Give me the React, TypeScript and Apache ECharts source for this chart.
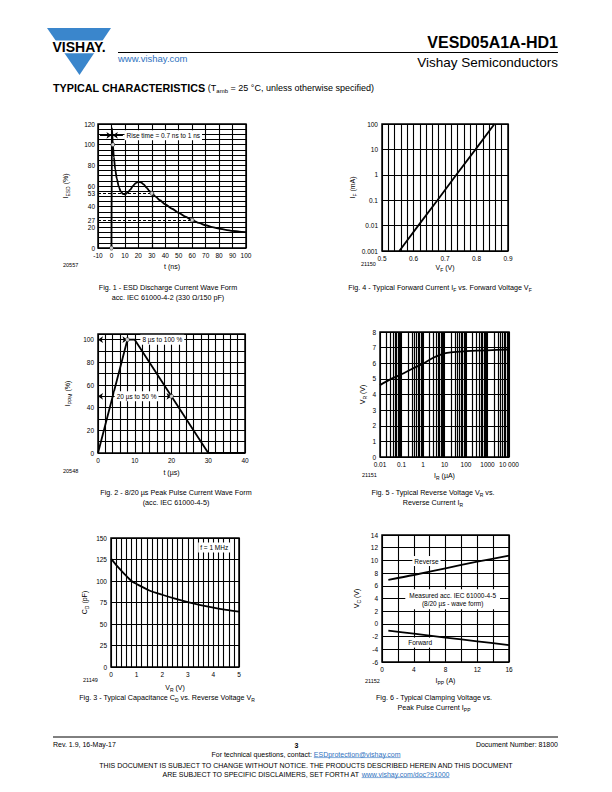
import React, { useEffect, useRef } from 'react';
import * as echarts from 'echarts';

const FONT = '"Liberation Sans", Arial, Helvetica, sans-serif';
const BLACK = '#000';
const BLUE = '#3a86cc';
const LINK = '#2f72c0';

// ---- Fig. 1 : ESD discharge current wave form
const fig1Time = [0, 0.4, 1, 1.8, 2.8, 4, 5.5, 7, 8.5, 10, 12, 14, 16, 18, 20, 22, 24, 26, 28, 30, 33, 36, 40, 45, 50, 55, 60, 65, 70, 75, 80, 85, 90, 95, 100];
const fig1Iesd = [0, 116, 100, 88, 76, 67, 59, 54.5, 52.3, 52, 53.5, 56.5, 60, 62.8, 64, 63.5, 61.5, 58.5, 55.5, 53, 49.5, 46.2, 42.3, 38, 34, 30.3, 27, 24.3, 22, 20.2, 18.8, 17.6, 16.6, 15.8, 15.3];
const fig1MarkTime = [0, 1, 30, 60];
const fig1MarkIesd = [0, 100, 53, 27];
const fig1YLabels = [0, 20, 27, 40, 53, 60, 80, 100, 120];

// ---- Fig. 2 : 8/20 us peak pulse current wave form
const fig2Time = [0, 8, 10, 30, 40];
const fig2Ippm = [0, 100, 100, 0, 0];
const fig2MarkTime = [8, 20];
const fig2MarkIppm = [100, 50];

// ---- Fig. 3 : capacitance vs reverse voltage
const fig3Vr = [0, 0.25, 0.5, 0.8, 1, 1.5, 2, 2.5, 3, 3.5, 4, 4.5, 5];
const fig3Cd = [126, 117, 109, 100, 96.5, 89, 84, 79.5, 75.5, 72, 69, 66.5, 64.5];

// ---- Fig. 4 : forward current vs forward voltage
const fig4Vf = [0.555, 0.615, 0.676, 0.736, 0.797, 0.857];
const fig4If = [0.001, 0.01, 0.1, 1, 10, 100];

// ---- Fig. 5 : reverse voltage vs reverse current
const fig5Ir = [0.01, 0.03, 0.1, 0.3, 1, 3, 10, 20, 50, 100, 1000, 10000];
const fig5Vr = [4.6, 4.97, 5.3, 5.63, 5.97, 6.35, 6.63, 6.7, 6.74, 6.77, 6.83, 6.88];
const fig5Decades = [0.01, 0.1, 1, 10, 100, 1000];
const fig5Steps = [2, 3, 4, 5, 6, 7, 8, 9];

// ---- Fig. 6 : clamping voltage vs peak pulse current
const fig6Ipp = [0.8, 4, 8, 12, 16];
const fig6Reverse = [6.95, 7.7, 8.75, 9.8, 10.75];
const fig6Forward = [-1.05, -1.53, -2.16, -2.74, -3.35];

const zip = (a: number[], b: number[]) => a.map((v, i) => [v, b[i]]);

const nameRich = {
  n: { fontSize: 7, fontFamily: FONT, color: BLACK, lineHeight: 10 },
  s: { fontSize: 5, fontFamily: FONT, color: BLACK, lineHeight: 5, verticalAlign: 'bottom' },
};

function axis(gridIndex: number, o: any) {
  const { label, ...rest } = o;
  return {
    gridIndex,
    axisLine: { show: false },
    axisTick: { show: false },
    splitLine: { show: true, lineStyle: { color: BLACK, width: 1.1 } },
    nameLocation: 'middle',
    nameTextStyle: { color: BLACK, fontFamily: FONT, fontSize: 7, lineHeight: 10, rich: nameRich },
    axisLabel: { color: BLACK, fontSize: 6.5, fontFamily: FONT, margin: 4, ...(label || {}) },
    ...rest,
  };
}

const gridBox = (left: number, top: number, width: number, height: number) => ({
  left, top, width, height, show: true, borderColor: BLACK, borderWidth: 1.5, backgroundColor: 'transparent',
});

const isMult = (v: number, m: number) => Math.abs(v / m - Math.round(v / m)) < 1e-6;
const logFmt = (v: number) => {
  const r = Number(Number(v).toPrecision(6));
  return r === 10000 ? '10 000' : String(r);
};

const curve = (xi: number, data: number[][], extra: any = {}) => ({
  type: 'line', xAxisIndex: xi, yAxisIndex: xi, data, symbol: 'none', silent: true,
  lineStyle: { color: BLACK, width: 1.8 }, ...extra,
});

const markers = (xi: number, data: number[][], extra: any = {}) => ({
  type: 'scatter', xAxisIndex: xi, yAxisIndex: xi, data, symbol: 'circle', symbolSize: 4, silent: true, z: 5,
  itemStyle: { color: '#fff', borderColor: BLACK, borderWidth: 0.8 }, ...extra,
});

const noteLabel = { show: true, color: BLACK, fontSize: 6.5, fontFamily: FONT, backgroundColor: '#fff', padding: [1, 2], position: 'inside', formatter: '{b}', lineHeight: 8 };
const notes = (items: any[]) => ({
  silent: true, symbol: 'rect', symbolSize: 1, itemStyle: { color: 'rgba(0,0,0,0)' },
  label: noteLabel, data: items,
});
const arrows = (items: any[]) => ({
  silent: true, symbolSize: 5, label: { show: false }, lineStyle: { color: BLACK, width: 1, type: 'solid' }, data: items,
});

function buildOption() {
  const minorLines: any[] = [];
  fig5Decades.forEach((d) => fig5Steps.forEach((s) => minorLines.push({ xAxis: d * s })));

  const mw = (t: string, f: string) => {
    const c = document.createElement('canvas').getContext('2d') as CanvasRenderingContext2D;
    c.font = f;
    return c.measureText(t).width;
  };
  const footFont = `7px ${FONT}`;
  const f1a = 'For technical questions, contact: ';
  const f1b = 'ESDprotection@vishay.com';
  const w1a = mw(f1a, footFont), w1b = mw(f1b, footFont);
  const x1 = 306 - (w1a + w1b) / 2;
  const f3a = 'ARE SUBJECT TO SPECIFIC DISCLAIMERS, SET FORTH AT ';
  const f3b = 'www.vishay.com/doc?91000';
  const w3a = mw(f3a, footFont), w3b = mw(f3b, footFont);
  const x3 = 306 - (w3a + w3b) / 2;

  const capRich = {
    s: { fontSize: 5, fontFamily: FONT, fill: BLACK, lineHeight: 5, verticalAlign: 'bottom' },
  };
  const txt = (text: string, x: number, y: number, o: any = {}) => ({
    type: 'text', x, y, silent: true,
    style: { text, fill: BLACK, fontSize: 7, fontFamily: FONT, align: 'left', verticalAlign: 'middle', lineHeight: 10, rich: capRich, ...o },
  });
  const cap = (text: string, x: number, y: number) => txt(text, x, y, { align: 'center', fontSize: 7.2 });

  const graphic: any[] = [
    // logo
    { type: 'polygon', silent: true, shape: { points: [[47, 28], [111, 28], [79.5, 75]] }, style: { fill: BLUE } },
    { type: 'rect', silent: true, shape: { x: 42, y: 40.5, width: 74, height: 12.8 }, style: { fill: '#fff' } },
    txt('VISHAY.', 52.5, 47.2, { fontSize: 14, fontWeight: 'bold' }),
    { type: 'line', silent: true, shape: { x1: 118, y1: 52.5, x2: 558, y2: 52.5 }, style: { stroke: BLACK, lineWidth: 1 } },
    txt('VESD05A1A-HD1', 558, 42, { align: 'right', fontSize: 16, fontWeight: 'bold' }),
    txt('www.vishay.com', 118, 58.5, { fontSize: 9.5, fill: LINK }),
    txt('Vishay Semiconductors', 558, 62, { align: 'right', fontSize: 13.5 }),
    txt('{b|TYPICAL CHARACTERISTICS} {n|(T}{t|amb}{n| = 25 °C, unless otherwise specified)}', 53, 88, {
      fontSize: 9,
      rich: {
        b: { fontSize: 10.8, fontWeight: 'bold', fontFamily: FONT, fill: BLACK, lineHeight: 12 },
        n: { fontSize: 9, fontFamily: FONT, fill: BLACK, lineHeight: 12 },
        t: { fontSize: 6, fontFamily: FONT, fill: BLACK, lineHeight: 6, verticalAlign: 'bottom' },
      },
    }),
    // figure ids
    txt('20557', 63, 265, { fontSize: 5.5 }),
    txt('21150', 361, 264, { fontSize: 5.5 }),
    txt('20548', 63, 471, { fontSize: 5.5 }),
    txt('21151', 362, 475, { fontSize: 5.5 }),
    txt('21149', 83, 680, { fontSize: 5.5 }),
    txt('21152', 365, 680.5, { fontSize: 5.5 }),
    // captions
    cap('Fig. 1 - ESD Discharge Current Wave Form', 168, 287),
    cap('acc. IEC 61000-4-2 (330 Ω/150 pF)', 168, 297),
    cap('Fig. 4 - Typical Forward Current I{s|F} vs. Forward Voltage V{s|F}', 440, 287),
    cap('Fig. 2 - 8/20 µs Peak Pulse Current Wave Form', 176, 492),
    cap('(acc. IEC 61000-4-5)', 176, 502),
    cap('Fig. 5 - Typical Reverse Voltage V{s|R} vs.', 433, 492),
    cap('Reverse Current I{s|R}', 433, 502),
    cap('Fig. 3 - Typical Capacitance C{s|D} vs. Reverse Voltage V{s|R}', 167, 697),
    cap('Fig. 6 - Typical Clamping Voltage vs.', 434, 697),
    cap('Peak Pulse Current I{s|PP}', 434, 707),
    // footer
    { type: 'line', silent: true, shape: { x1: 53, y1: 737, x2: 558, y2: 737 }, style: { stroke: BLACK, lineWidth: 1 } },
    txt('Rev. 1.9, 16-May-17', 53, 744.5),
    txt('3', 296.5, 745, { align: 'center', fontWeight: 'bold' }),
    txt('Document Number: 81800', 558, 744.5, { align: 'right' }),
    txt(f1a, x1, 754),
    txt(f1b, x1 + w1a, 754, { fill: LINK }),
    { type: 'line', silent: true, shape: { x1: x1 + w1a, y1: 757.6, x2: x1 + w1a + w1b, y2: 757.6 }, style: { stroke: LINK, lineWidth: 0.6 } },
    txt('THIS DOCUMENT IS SUBJECT TO CHANGE WITHOUT NOTICE. THE PRODUCTS DESCRIBED HEREIN AND THIS DOCUMENT', 306, 765, { align: 'center' }),
    txt(f3a, x3, 774),
    txt(f3b, x3 + w3a, 774, { fill: LINK }),
    { type: 'line', silent: true, shape: { x1: x3 + w3a, y1: 777.6, x2: x3 + w3a + w3b, y2: 777.6 }, style: { stroke: LINK, lineWidth: 0.6 } },
  ];

  return {
    animation: false,
    backgroundColor: '#fff',
    textStyle: { fontFamily: FONT },
    graphic,
    grid: [
      gridBox(98, 124, 148, 124), // 0 fig1
      gridBox(382, 124, 126, 127), // 1 fig4
      gridBox(98, 334, 147, 119), // 2 fig2
      gridBox(380, 332, 129, 125), // 3 fig5
      gridBox(111, 538, 128, 129), // 4 fig3
      gridBox(382, 535, 127, 127), // 5 fig6
    ],
    xAxis: [
      axis(0, { type: 'value', min: -10, max: 100, interval: 10, name: '{n|t (ns)}', nameGap: 13 }),
      axis(1, {
        type: 'value', min: 0.5, max: 0.9, interval: 0.02, name: '{n|V}{s|F}{n| (V)}', nameGap: 11,
        label: { formatter: (v: number) => (isMult(v, 0.1) ? v.toFixed(1) : '') },
      }),
      axis(2, {
        type: 'value', min: 0, max: 40, interval: 2, name: '{n|t (µs)}', nameGap: 14,
        label: { formatter: (v: number) => (isMult(v, 10) ? String(v) : '') },
      }),
      axis(3, {
        type: 'log', logBase: 10, min: 0.01, max: 10000, name: '{n|I}{s|R}{n| (µA)}', nameGap: 13,
        label: { formatter: logFmt },
      }),
      axis(4, {
        type: 'value', min: 0, max: 5, interval: 0.2, name: '{n|V}{s|R}{n| (V)}', nameGap: 15,
        label: { formatter: (v: number) => (isMult(v, 1) ? String(Math.round(v)) : '') },
      }),
      axis(5, {
        type: 'value', min: 0, max: 16, interval: 2, name: '{n|I}{s|PP}{n| (A)}', nameGap: 13,
        label: { formatter: (v: number) => (isMult(v, 4) ? String(v) : '') },
      }),
    ],
    yAxis: [
      axis(0, {
        type: 'value', min: 0, max: 120, interval: 5, name: '{n|I}{s|ESD}{n| (%)}', nameGap: 28,
        label: { customValues: fig1YLabels, margin: 3 },
      }),
      axis(1, {
        type: 'log', logBase: 10, min: 0.001, max: 100, name: '{n|I}{s|F}{n| (mA)}', nameGap: 24,
        label: { formatter: logFmt },
      }),
      axis(2, {
        type: 'value', min: 0, max: 105, interval: 10, name: '{n|I}{s|PPM}{n| (%)}', nameGap: 26,
        label: { formatter: (v: number) => (isMult(v, 20) && v <= 100 ? String(v) : '') },
      }),
      axis(3, { type: 'value', min: 0, max: 8, interval: 1, name: '{n|V}{s|R}{n| (V)}', nameGap: 13 }),
      axis(4, { type: 'value', min: 0, max: 150, interval: 25, name: '{n|C}{s|D}{n| (pF)}', nameGap: 22 }),
      axis(5, { type: 'value', min: -6, max: 14, interval: 2, name: '{n|V}{s|C}{n| (V)}', nameGap: 21 }),
    ],
    series: [
      // Fig. 1
      curve(0, zip(fig1Time, fig1Iesd), {
        smooth: 0.25, smoothMonotone: 'x',
        markLine: {
          silent: true, symbol: 'none', label: { show: false },
          lineStyle: { color: BLACK, width: 1.2, type: [3, 2] },
          data: [
            [{ coord: [-10, 53] }, { coord: [30, 53] }],
            [{ coord: [-10, 27] }, { coord: [60, 27] }],
            [{ coord: [30, 0] }, { coord: [30, 53] }],
          ],
        },
      }),
      markers(0, zip(fig1MarkTime, fig1MarkIesd), {
        markLine: arrows([
          [{ coord: [-8.5, 109], symbol: 'none' }, { coord: [0, 109], symbol: 'arrow' }],
          [{ coord: [8.5, 109], symbol: 'none' }, { coord: [1, 109], symbol: 'arrow' }],
        ]),
        markPoint: notes([{ name: 'Rise time = 0.7 ns to 1 ns', coord: [38.5, 109] }]),
      }),
      // Fig. 4
      curve(1, zip(fig4Vf, fig4If)),
      // Fig. 2
      curve(2, zip(fig2Time, fig2Ippm)),
      markers(2, zip(fig2MarkTime, fig2MarkIppm), {
        markLine: arrows([
          [{ coord: [0, 100], symbol: 'arrow' }, { coord: [8, 100], symbol: 'arrow' }],
          [{ coord: [0, 50], symbol: 'arrow' }, { coord: [20, 50], symbol: 'arrow' }],
        ]),
        markPoint: notes([
          { name: '8 µs to 100 %', coord: [17.5, 100] },
          { name: '20 µs to 50 %', coord: [10.5, 50] },
        ]),
      }),
      // Fig. 5
      curve(3, zip(fig5Ir, fig5Vr), {
        smooth: 0.3,
        markLine: {
          silent: true, symbol: 'none', label: { show: false },
          lineStyle: { color: BLACK, width: 1.2, type: 'solid' },
          data: minorLines,
        },
      }),
      // Fig. 3
      curve(4, zip(fig3Vr, fig3Cd), {
        smooth: 0.3,
        markPoint: notes([{ name: 'f = 1 MHz', coord: [4.03, 139] }]),
      }),
      // Fig. 6
      curve(5, zip(fig6Ipp, fig6Reverse), {
        smooth: 0.3,
        markPoint: notes([
          { name: 'Reverse', coord: [5.6, 9.9] },
          { name: 'Measured acc. IEC 61000-4-5\n(8/20 µs - wave form)', coord: [8.9, 3.9], label: { padding: [2, 4] } },
        ]),
      }),
      curve(5, zip(fig6Ipp, fig6Forward), {
        smooth: 0.3,
        markPoint: notes([{ name: 'Forward', coord: [4.8, -2.95] }]),
      }),
    ],
  };
}

export default function App() {
  const ref = useRef<HTMLDivElement>(null);
  useEffect(() => {
    if (!ref.current) return;
    const chart = echarts.init(ref.current, null, { renderer: 'svg' });
    chart.setOption(buildOption() as any);
    return () => chart.dispose();
  }, []);
  return <div ref={ref} style={{ position: 'absolute', left: 0, top: 0, width: 612, height: 792 }} />;
}
